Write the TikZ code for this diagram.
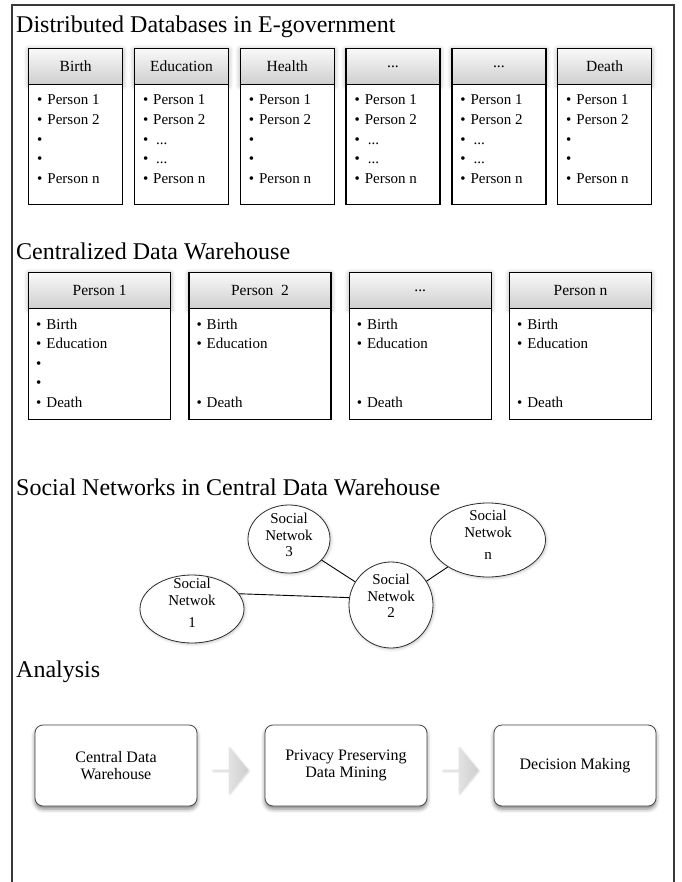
\documentclass[tikz,border=0pt]{standalone}
\usepackage{fontspec}
\setmainfont{Liberation Serif}
\usetikzlibrary{shapes.geometric,shapes.arrows,shadows.blur}

\newcommand{\threedots}{...}

\tikzset{
  sectitle/.style={anchor=base west, inner sep=0pt, font=\fontsize{24}{28}\selectfont},
  hdr/.style={draw=black, line width=1.3pt, top color=gray!5, bottom color=gray!38,
    inner sep=0pt, anchor=north west,
    blur shadow={shadow xshift=0pt, shadow yshift=-1pt, shadow blur radius=5pt, shadow opacity=35}},
  hdrtext/.style={font=\fontsize{15.5}{18}\selectfont, inner sep=0pt},
  listbody/.style={draw=black, line width=1.3pt, fill=white, inner sep=0pt, anchor=north west},
  item/.style={anchor=base west, inner sep=0pt, font=\fontsize{15}{17}\selectfont},
  net/.style={ellipse, draw=gray!35!black, line width=0.8pt, fill=white, inner sep=0pt,
    blur shadow={shadow xshift=1pt, shadow yshift=-1pt, shadow blur radius=3pt, shadow opacity=25}},
  nettext/.style={align=center, inner sep=0pt, font=\fontsize{15}{16.5}\selectfont},
  link/.style={line width=0.9pt},
  stage/.style={rounded corners=8pt, draw=gray!55!black, fill=white, line width=0.8pt,
    align=center, inner sep=0pt, font=\fontsize{16}{17.5}\selectfont,
    blur shadow={shadow xshift=0pt, shadow yshift=-3pt, shadow blur radius=4pt, shadow opacity=50}},
  flow/.style={single arrow, single arrow head extend=11.5pt, single arrow tip angle=100,
    inner sep=0pt, minimum height=36pt, minimum width=46pt, draw=none,
    left color=gray!10, right color=gray!38,
    blur shadow={shadow xshift=1pt, shadow yshift=-1pt, shadow blur radius=2pt, shadow opacity=20}},
  frame/.style={draw=gray!45!black, line width=1.3pt}
}

\begin{document}
\begin{tikzpicture}[x=1pt, y=-1pt]
  \useasboundingbox (0,0) rectangle (681,882);

  % outer frame, open at the bottom
  \coordinate (fbl) at (12,882);
  \coordinate (ftl) at (12,5);
  \coordinate (ftr) at (674,5);
  \coordinate (fbr) at (674,882);
  \draw[frame] (fbl) -- (ftl) -- (ftr) -- (fbr);

  % ---------------- distributed databases ----------------
  \node[sectitle] (t1) at (16,33) {Distributed Databases in E-government};

  % shaded header bars first, so the list bodies cover their glow
  \foreach \i/\lab in {0/Birth, 1/Education, 2/Health, 3/\threedots, 4/\threedots, 5/Death} {
    \pgfmathsetmacro{\xl}{28+105.8*\i}
    \node[hdr, minimum width=94pt, minimum height=36pt] (dh\i) at (\xl,48) {};
    \node[hdrtext] (dl\i) at (dh\i.center) {\lab};
  }
  \foreach \i/\dd in {0/0, 1/1, 2/0, 3/1, 4/1, 5/0} {
    \pgfmathsetmacro{\xl}{28+105.8*\i}
    \node[listbody, minimum width=94pt, minimum height=120pt] (db\i) at (\xl,84) {};
    \node[item] (di\i a) at (\xl+9,105) {•\hspace{5pt}Person 1};
    \node[item] (di\i b) at (\xl+9,124.6) {•\hspace{5pt}Person 2};
    \ifnum\dd=1
      \node[item] (di\i c) at (\xl+9,144.2) {•\hspace{8pt}...};
      \node[item] (di\i d) at (\xl+9,163.8) {•\hspace{8pt}...};
    \else
      \node[item] (di\i c) at (\xl+9,144.2) {•};
      \node[item] (di\i d) at (\xl+9,163.8) {•};
    \fi
    \node[item] (di\i e) at (\xl+9,183.4) {•\hspace{5pt}Person n};
  }

  % ---------------- centralized warehouse ----------------
  \node[sectitle] (t2) at (16,260) {Centralized Data Warehouse};

  \foreach \i/\lab in {0/Person 1, 1/Person\ \ 2, 2/\threedots, 3/Person n} {
    \pgfmathsetmacro{\xl}{28+160.3*\i}
    \node[hdr, minimum width=142pt, minimum height=36pt] (ch\i) at (\xl,272) {};
    \node[hdrtext] (cl\i) at (ch\i.center) {\lab};
  }
  \foreach \i/\mid in {0/1, 1/0, 2/0, 3/0} {
    \pgfmathsetmacro{\xl}{28+160.3*\i}
    \node[listbody, minimum width=142pt, minimum height=111pt] (cb\i) at (\xl,308) {};
    \node[item] (ci\i a) at (\xl+8,329) {•\hspace{5pt}Birth};
    \node[item] (ci\i b) at (\xl+8,348.5) {•\hspace{5pt}Education};
    \ifnum\mid=1
      \node[item] (ci\i c) at (\xl+8,368) {•};
      \node[item] (ci\i d) at (\xl+8,387.5) {•};
    \fi
    \node[item] (ci\i e) at (\xl+8,407) {•\hspace{5pt}Death};
  }

  % ---------------- social networks ----------------
  \node[sectitle] (t3) at (16,495) {Social Networks in Central Data Warehouse};

  \node[net, minimum width=82pt,  minimum height=68pt] (sn3) at (289,539) {};
  \node[net, minimum width=115pt, minimum height=74pt] (snn) at (488,540) {};
  \node[net, minimum width=84pt,  minimum height=86pt] (sn2) at (391,605) {};
  \node[net, minimum width=104pt, minimum height=68pt] (sn1) at (192,609) {};

  \node[nettext] (sn3t) at (289,535) {Social\\Netwok\\3};
  \node[nettext] (snnt) at (488,535) {Social\\Netwok\\[6pt]n};
  \node[nettext] (sn2t) at (391,596) {Social\\Netwok\\2};
  \node[nettext] (sn1t) at (192,603) {Social\\Netwok\\[6pt]1};

  \draw[link] (sn1.18) -- (sn2.170);
  \draw[link] (sn3) -- (sn2);
  \draw[link] (sn2) -- (snn);

  % ---------------- analysis ----------------
  \node[sectitle] (t4) at (16,677) {Analysis};

  \node[stage, minimum width=162pt, minimum height=81pt] (s1) at (116,765.5) {Central Data\\Warehouse};
  \node[stage, minimum width=162pt, minimum height=81pt] (s2) at (346,765.5) {Privacy Preserving\\Data Mining};
  \node[stage, minimum width=162pt, minimum height=81pt] (s3) at (575,765.5) {Decision Making};

  \node[flow] (f1) at (230,770) {};
  \node[flow] (f2) at (460,770) {};
\end{tikzpicture}
\end{document}
